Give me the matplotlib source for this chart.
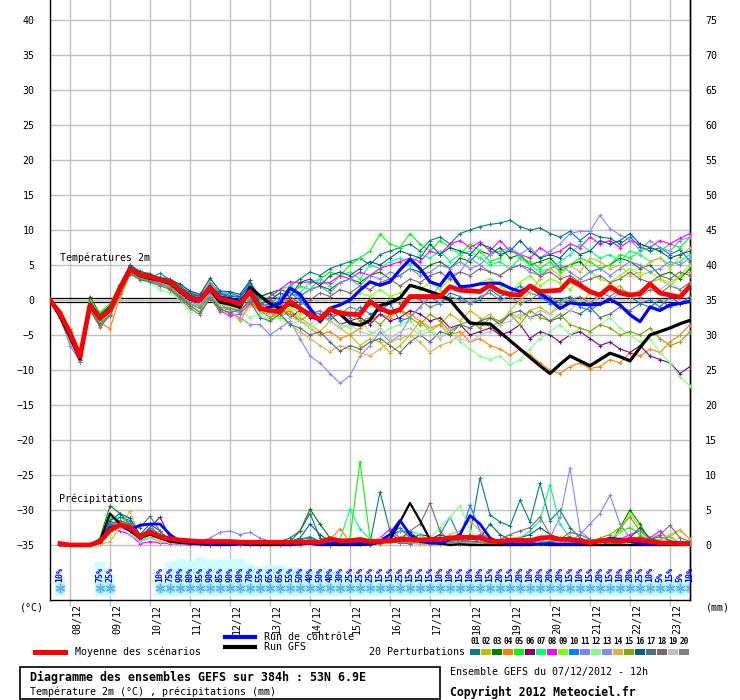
#<-------------------------------------------------- All Imports ------------------------------------------------------>
import matplotlib
matplotlib.use("Agg")
import matplotlib.pyplot as plt
from matplotlib.lines import Line2D
from matplotlib.patches import Rectangle

plt.rcParams['font.family'] = ['DejaVu Sans Mono', 'DejaVu Sans']

#<-------------------------------------------------------- Data ------------------------------------------------------->

# 6h steps from 07/12 12h to +384h
hours = list(range(0, 385, 6))
rain_hours = hours[1:]
day_ticks = list(range(12, 385, 24))
day_labels = ["08/12", "09/12", "10/12", "11/12", "12/12", "13/12", "14/12", "15/12",
              "16/12", "17/12", "18/12", "19/12", "20/12", "21/12", "22/12", "23/12"]

# Temperature 2m (°C)
t_mean = [0, -1.9, -4.7, -8.1, -0.7, -2.6, -1.4, 1.7, 4.4, 3.6, 3.3, 2.9, 2.6, 1.4, 0.3, 0.0, 1.7, 0.2, -0.1, -0.6,
          1.2, -1.2, -1.5, -1.7, -0.2, -1.2, -2.1, -2.7, -1.3, -1.9, -2.0, -2.1, -0.2, -1.2, -1.8, -1.4, 0.5, 0.5, 0.5, 0.5,
          1.9, 1.4, 1.3, 1.2, 2.1, 1.2, 0.8, 0.7, 2.0, 1.2, 1.3, 1.4, 2.9, 2.1, 1.2, 0.7, 1.9, 1.0, 0.7, 0.9,
          2.3, 1.0, 0.7, 0.4, 2.0]
t_ctrl = [0, -1.9, -4.6, -8.0, -0.6, -2.5, -1.2, 1.8, 4.5, 3.7, 3.4, 3.0, 2.7, 1.5, 0.5, 0.1, 1.9, 0.4, 0.2, -0.2, 1.5,
          -1.4, -1.0, -0.5, 1.7, 0.8, -1.2, -3.1, -1.2, -0.7, 0.0, 1.4, 2.6, 2.1, 2.6, 4.3, 5.8, 4.5, 2.6, 2.1, 4.0,
          1.9, 2.0, 2.3, 2.4, 2.4, 1.7, 1.2, 1.9, 0.9, 0.0, -1.2, -0.4, -0.6, -0.7, -0.6, 0.1, -0.7, -2.1, -3.1, -1.0,
          -1.5, -0.7, -0.5, -0.2]
t_gfs = [0, -2.3, -5.2, -8.4, -0.8, -2.7, -1.3, 1.6, 4.4, 3.5, 3.1, 2.8, 2.4, 1.2, 0.1, -0.1, 1.5, -0.3, -0.6, -1.0, 1.8,
         0.6, -0.5, -1.2, -0.6, -1.2, -2.1, -2.9, -1.4, -2.0, -3.3, -3.6, -2.9, -0.8, -0.4, 0.3, 2.1, 1.7, 1.2, 0.7, 0.0,
         -1.7, -3.3, -3.4, -3.4, -4.6, -5.8, -7.0, -8.2, -9.4, -10.5, -9.2, -8.0, -8.7, -9.4, -8.5, -7.6, -8.1, -8.7, -6.8, -5.0,
         -4.5, -4.0, -3.4, -2.9]

p01 = [0, -1.8, -4.5, -7.8, -0.5, -2.5, -1, 2, 5, 4, 3.5, 3, 3, 2, 1, 0.5, 2.5, 1, 1, 0.5, 2.5,
       0.5, 1, 0, 2, 3, 4, 3.5, 4.5, 5, 5.5, 6, 5, 6.5, 7, 7.5, 8, 7, 8.5, 9, 8, 9.5, 10, 10.5, 10.8, 11,
       11.4, 10.5, 10, 10.3, 9.5, 9, 9.8, 8.5, 9.6, 9, 8.8, 8, 9, 7.6, 7, 7.5, 6.5, 7.2, 5.5]
p02 = [0, -2.2, -5.2, -8.2, -1.2, -3.2, -2, 1, 4, 3, 3, 2.5, 2.2, 1, 0, -1, 0.8, -1, -1.5, -3, -0.5,
       -1.5, -2, -2.5, -1.5, -2.5, -3.5, -4.5, -3, -4, -5, -6.5, -5.5, -6, -7.5, -6.5, -5, -3, -4.5, -3.5, -2,
       -3, -1.5, -2.5, -4, -3, -2, -2.5, -1.5, -1, -2, -0.5, 0.5, -0.5, 1, 0.5, 1.5, 2, 0.5, 1, 2.5, 3, 2, 3.5, 4]
p03 = [0, -1.5, -4.2, -7.5, 0.5, -2, -0.8, 2.2, 4.8, 3.8, 3.6, 3.2, 3, 1.8, 0.8, 0.5, 2, 0.8, 0.5, 0.5, 2,
       0.5, 1, 1.5, 1, 0.5, 1.5, 2, 1.5, 2.5, 3, 2.5, 3.5, 4, 3, 3.5, 4.5, 4, 5, 5.5, 4.5,
       6, 5.5, 7, 6.5, 7.5, 6, 6.5, 5, 5.5, 6, 4.5, 5, 5.5, 4, 4.5, 5, 6, 5.5, 4.5, 5, 3.5, 4, 3, 4.5]
p04 = [0, -2, -4.8, -7.8, -1.5, -3.2, -4.1, 0.5, 3.8, 3.2, 3.5, 3.3, 3, 2.2, 1.2, 0.8, 2.2, 0.5, 0.2, -0.5, 1,
       -1, -0.5, -2, -1.5, -3, -4, -5, -4.5, -5.5, -5, -4, -3, -2, -2.5, -1.5, -2, -3, -4, -3.5, -5,
       -4.5, -6, -5.5, -6.5, -7, -7.9, -7, -7.8, -9, -10, -10.5, -9.5, -9, -9.8, -9.5, -8.5, -9, -7.5, -8, -7,
       -7.5, -6, -5, -3.5]
p05 = [0, -1.8, -4.5, -7.6, -0.2, -1.8, -0.5, 2.3, 4.5, 3.3, 3, 3.3, 2.8, 1.3, 0.5, -0.2, 1.5, 0.5, -0.5, 0, 1.5,
       -0.5, 0, 1, 0.5, 2, 1.5, 3, 4, 3.5, 5, 6, 7, 9.4, 8, 7.5, 9.5, 8, 7, 8.5, 7.5,
       6.5, 8, 7, 5.5, 6, 7.5, 6, 5.5, 4.5, 5.5, 4, 5, 6, 5.5, 4.5, 5, 6.5, 6, 7, 7.5, 7, 8, 7.5, 9]
p06 = [0, -2.3, -5, -8.5, -1, -2.8, -1.8, 1.5, 4.3, 3.4, 3.1, 2.6, 2.3, 1, 0, -0.5, 1.3, -0.3, -0.8, -1.2, 0.8,
       -1.5, -2, -1, -2.5, -1.5, -2.5, -3, -2, -3.5, -3, -2.5, -3.5, -2, -3, -2.5, -1.5, -2, -3, -2.5, -4,
       -3.5, -5, -4.5, -4, -5, -4.5, -3.5, -5.5, -4.5, -5, -6, -5, -4.5, -5.5, -6.5, -6, -7, -7.5, -6.5, -8,
       -8.5, -9, -10.5, -9.5]
p07 = [0, -1.9, -4.6, -7.9, -0.6, -2.4, -1.2, 1.8, 4.2, 3.7, 3.4, 2.8, 2.4, 1.6, 0.4, 0.2, 1.9, 0.6, 0.3, -0.2, 1.6,
       0, 0.5, 1.5, 2, 1, 2.5, 3, 2, 3.5, 4, 3, 5, 4.5, 5.5, 6, 5, 6.5, 6, 7, 5.5,
       6.5, 7, 6, 5, 5.5, 4.5, 6, 5, 4, 4.5, 5.5, 6.5, 8, 7, 6, 6.5, 5.5, 7, 6.5, 5.5, 6, 5, 5.5, 6.5]
p08 = [0, -2, -4.8, -8, -0.8, -2.7, -1.4, 1.6, 4.4, 3.5, 3.2, 2.7, 2.3, 1.2, 0, -0.4, 1.2, -1.5, -2.3, -2, -0.5,
       -1, 0.5, 1.5, 2.6, 2.5, 2.6, 2.4, 2.5, 3.5, 3, 4, 3.5, 4.5, 5, 5.5, 6, 5.5, 7, 6.5, 8,
       8.5, 7.5, 8.3, 7, 8.5, 7, 6.5, 6, 7.5, 6.5, 7, 8, 7.5, 9, 8, 8.5, 7.5, 8.5, 8, 7.5, 8.5, 8, 8.8, 9.5]
p09 = [0, -1.7, -4.3, -7.4, -0.4, -3.5, -1.6, 1.2, 3.8, 3, 2.8, 2.7, 1.5, 0.5, -1, -1.5, 0.5, -0.6, -0.8, -1, 0.5,
       -2, -1.5, -2.5, -1, -2, -1.5, -2.5, -1, -0.5, 0, 1, 0.5, 1.5, 0.5, 1, 2, 1.5, 2.5, 1.5, 3,
       2, 1.5, 2.5, 3, 2, 1, 2.5, 3.5, 2, 3, 2.5, 1.5, 3, 4, 3, 2.5, 3.5, 4.5, 3.5, 4, 3, 2.5, 3.5, 5]
p10 = [0, -2, -4.9, -8.2, -0.9, -2.5, -1.3, 2, 4.6, 3.8, 3.2, 3.8, 2.9, 1.8, 1, 0.6, 2.5, 0.9, 0.7, 0.3, 2.2,
       -0.5, -1, 0, 1, 0, -1.5, -2, -3, -1.5, -2.5, -1, -2, -1.5, -0.5, -3, -2.5, -1, 0.5, -0.5, 1,
       0.5, -0.5, 0, 1.5, 0.5, 1, 2, 1, 0.5, -0.5, 0, 0.5, -1, -1.5, -0.5, 0, 1, 0.5, -0.5, 0, -1, 0.5, -0.5, 0]
p11 = [0, -2.5, -6.5, -8.8, -1.2, -3, -1.5, 1.3, 4.2, 3.2, 2.9, 2.4, 2, 0.8, -0.5, -1, 0.8, -0.5, -1.5, -1.8, 0.3,
       -1, -0.5, 0.5, 1, 0.5, 1.5, 2, 1, 2.5, 3, 2, 3.5, 3, 4, 3.5, 4.5, 3.5, 4, 5, 4.5,
       5.5, 4.5, 5, 4, 3.5, 4.5, 5, 4, 3.5, 4.5, 5, 4, 3, 4, 4.5, 3.5, 4.5, 5.5, 5, 4, 4.5, 5.5, 5, 6]
p12 = [0, -1.9, -4.5, -7.8, -0.8, -3.8, -1.8, 1, 4, 2.8, 2.5, 1.5, 1, 0, -1.7, -0.5, 1, -0.5, -1, -1.5, -2.5,
       -2, -3, -2.5, -3.5, -3, -4, -3, -2.5, -3.5, -4, -3, -4.5, -5, -4, -3.5, -3, -4.5, -4, -5.5, -4.5,
       -6, -7, -8, -8.5, -8, -9.3, -8.5, -7, -5.5, -4.5, -3.5, -5, -4, -4.5, -3.5, -2.5, -4, -5, -6, -5.5,
       -7.5, -9, -11, -12.3]
p13 = [0, -2.1, -5.1, -8.3, -1.1, -2.9, -1.6, 1.4, 4.1, 3.1, 3, 2.5, 2.1, 1.1, -0.2, -0.8, 1, -1.2, -2, -2.5, -3.5,
       -3.5, -5, -4, -3, -5.5, -8, -9, -10.5, -11.9, -10.8, -8, -6.5, -4.5, -6, -5, -2.5, -1, 0.5, 2, 3.5,
       4, 6, 5, 6.5, 7, 7.5, 6.5, 7.5, 6, 7, 8, 9.5, 9.8, 9.8, 12.1, 10.2, 9.3, 8.6, 7.1, 8.5, 7.5, 7, 8.5, 9]
p14 = [0, -1.6, -4, -7.2, -0.3, -4, -1.8, 0, 3.6, 3.9, 3.9, 2.8, 2.5, 1.7, 0.6, 0.1, 2.8, 0.3, -1.5, -2.9, -0.8,
       -1.5, -2.5, -2, -3.5, -4.5, -5.5, -6.5, -7.4, -6.5, -7, -7.5, -8, -7, -6, -5.5, -5, -6, -7.5, -6.5, -6,
       -5, -4, -3, -2, -3.5, -1.5, 0, 1, 3, 4.5, 3.5, 5, 4, 6, 5.5, 4.5, 5, 3.5, 4, 5.5, 6, 4.5, 6.2, 7.5]
p15 = [0, -2.2, -5.3, -8.4, -1.3, -3.3, -2.1, 1.1, 3.9, 3.1, 2.7, 2.3, 1.8, 0.6, -0.6, -1.2, 0.5, -1, -1.2, -1.6, -0.2,
       -1.5, -2.5, -1.5, -2, -3, -2, -3, -2.5, -1.5, -2, -3, -2.5, -3.5, -2, -1.5, -2.5, -3.5, -2, -3, -4.5,
       -3.5, -3, -4, -2.5, -3, -2, -3.5, -1.5, -2.5, -3, -2, -3.5, -4, -4.5, -3.5, -4, -5, -4.5, -5, -4,
       -5.5, -6.5, -6, -4.5]
p16 = [0, -1.7, -4.4, -7.7, -0.4, -2.2, -0.9, 2.1, 5, 4.1, 3.7, 3.1, 2.9, 2.3, 1.3, 0.8, 3.1, 1.3, 1.2, 0.8, 2.8,
       -0.5, 0, 1, 0.5, 2.5, 3, 2, 3.5, 4, 3.5, 4.5, 5.5, 5, 6, 7, 6.5, 6, 8, 6.5, 7.5,
       7, 6.5, 8, 7.5, 6.5, 7, 8.5, 7, 6, 6.5, 6, 7.5, 6.5, 7, 8.5, 8, 8.5, 9.5, 8, 7.5, 7, 6, 6.5, 7]
p17 = [0, -2.4, -5.5, -8.8, -1.4, -3.6, -2.3, 0.8, 3.7, 2.9, 2.6, 2, 1.6, 0.4, -0.8, -1.8, 0.2, -1.3, -1.8, -1.4, -0.2,
       -2.5, -3, -2, -3.5, -4, -5, -4.5, -6, -7.3, -6.5, -7, -6, -5.5, -6.5, -7.5, -6, -5, -6, -4.5, -5,
       -3.5, -4, -3, -2.5, -3.5, -2, -1.5, -2.5, -2, -3, -2.5, -1.5, -2, -1, -2.5, -2, -1, -1.5, -0.5, -1,
       0, -1, -0.5, 0.5]
p18 = [0, -2, -4.9, -8.1, -0.7, -2.6, -1.2, 1.9, 4.5, 3.6, 3.4, 3, 2.6, 1.4, 0.3, 0.1, 1.8, 0.2, 0, -0.3, 1.4,
       -0.5, 0, -1, 0.5, -0.5, 0, 1, 0.5, 1.5, 1, 2, 1.5, 2.5, 3, 2, 3, 2.5, 3.5, 4, 3,
       4, 3.5, 4.5, 4, 3.5, 4.5, 5, 4.5, 3.5, 4, 3, 3.5, 2.5, 3, 3.5, 2.5, 3, 4, 3, 2.5, 3.5, 3, 4, 3.5]
p19 = [0, -2.1, -5, -8.2, -0.9, -2.7, -1.3, 1.7, 4.4, 3.5, 3.2, 2.8, 2.5, 1.3, 0.1, -0.2, 1.5, 0, -0.4, -0.9, 0.9,
       -1.5, -2, -1.5, -2.5, -3, -3.5, -2.5, -3, -4, -3.5, -4.5, -5, -4, -5.5, -4.5, -4, -5, -4.5, -5.5, -4,
       -5.5, -6, -5, -4.5, -3.5, -3, -2, -2.5, -1.5, -2, -1, -1.5, 0, -0.5, 0.5, 0, 1, 0.5, 1.5, 2,
       1.5, 2.5, 1.5, 2.5]
p20 = [0, -2.6, -5.8, -8.9, -1.5, -3.9, -2.2, 1, 4, 3.2, 2.8, 2.2, 1.4, 0.2, -1.2, -2.1, 0.3, -1.7, -1.2, -1.5, 0,
       -1, -0.5, -1.5, -0.5, -1, -2, -1.5, -2.5, -2, -1, -1.5, -0.5, -1, 0, -0.5, 0.5, 0, -1, -0.5, 0.5,
       0, -0.5, 0.5, 1, 0, 0.5, -0.5, 0, 1, 0.5, -0.5, 0, 0.5, -0.5, 1, 0.5, 1.5, 1, 0.5, 1.5, 1, 2, 1.5, 2.5]

# Precipitations (mm), from +6h
r_mean = [0.2, 0, 0, 0, 0.5, 2.1, 2.9, 2.5, 1.2, 1.9, 1.2, 0.9, 0.7, 0.6, 0.5, 0.5, 0.5, 0.5, 0.4, 0.4,
          0.4, 0.4, 0.4, 0.4, 0.4, 0.4, 0.4, 0.9, 0.6, 0.6, 0.8, 0.5, 0.5, 0.6, 0.8, 0.8, 0.7, 0.8, 0.8, 1.0,
          1.1, 1.1, 1.0, 0.6, 0.5, 0.7, 0.7, 0.6, 1.0, 1.1, 0.8, 0.8, 0.6, 0.3, 0.6, 0.7, 0.5, 0.8, 0.7, 0.5,
          0.3, 0.3, 0.2, 0.2]
r_ctrl = [0, 0, 0, 0, 0.5, 2.5, 2.8, 2.2, 2.8, 3, 3, 1.5, 0.5,
          0.3, 0.2, 0.1, 0.2, 0.1, 0.2, 0.1, 0.2, 0.3, 0.2, 0.1, 0.3, 0.2, 0.1, 0.2, 0.3, 0.1, 0.2, 0.1, 0.5,
          1.5, 3.5, 1.5, 0.5, 0.3, 0.2, 0.8, 1.5, 4.2, 3, 1, 0.3, 0.2, 0.1, 0.2, 0.1, 0.2, 0.1, 0.1, 0.2,
          0.3, 0.5, 1, 0.8, 0.5, 0.2, 0.1, 0.2, 0.1, 0.2, 0.1]
r_gfs = [0, 0, 0, 0, 0.5, 4.5, 3, 2, 1, 1.5, 1, 0.5, 0.3,
         0.2, 0.1, 0, 0, 0, 0.1, 0, 0, 0, 0, 0, 0.1, 0.2, 0, 0, 0, 0, 0, 0.1, 0.3,
         0.8, 3.3, 6, 3.5, 0.8, 0.2, 0, 0.1, 0, 0, 0, 0, 0, 0, 0, 0.1, 0, 0, 0, 0,
         0, 0, 0, 0, 0, 0, 0, 0, 0, 0, 0]

r01 = [0.1, 0, 0, 0, 0.5, 3, 3.5, 2.5, 1, 2, 1, 0.5, 0.3,
       0.3, 0.2, 0.1, 0.2, 0.3, 0.2, 0.1, 0, 0.2, 0.5, 1, 2, 4.5, 1, 0.5, 0.3, 0.2, 0.5, 0.3, 7.6,
       2, 0.5, 0.3, 0.2, 0.5, 0.8, 1, 0.5, 1.5, 9.6, 4.3, 3.3, 2.7, 6.4, 3.3, 8.8, 3.5, 5, 2.5, 1,
       0.5, 0.3, 0.5, 0.8, 0.5, 0.3, 0.8, 1.2, 0.6, 0.4, 0.3]
r02 = [0, 0, 0, 0, 0.3, 2, 3, 2, 1.5, 1, 0.5, 0.3, 0.2,
       0.2, 0.1, 0, 0, 0.1, 0.2, 0, 0, 0.1, 0, 0.1, 0.3, 0.5, 0.2, 0, 0.1, 0.3, 0.2, 0, 0.5,
       1.5, 0.8, 0.3, 0.1, 0, 0.2, 0.5, 0.2, 0.1, 0.3, 0.5, 0.2, 0.1, 0.3, 0.8, 0.5, 0.3, 0.2, 0.1, 0.3,
       0.5, 0.8, 1, 0.5, 0.3, 0.5, 0.2, 0.8, 1.2, 2.1, 0.8]
r03 = [0.2, 0, 0, 0, 1, 5.6, 4.5, 3, 1.5, 1.5, 0.8, 0.5, 0.3,
       0.2, 0.1, 0.1, 0, 0, 0.2, 0.3, 0.2, 0.5, 0.3, 0.5, 2, 5.1, 3, 1, 0.5, 0.2, 0.3, 0.2, 0.8,
       1.5, 2, 1.8, 0.8, 0.5, 0.3, 0.5, 0.8, 0.4, 0.5, 0.3, 0.2, 0.5, 0.3, 0.4, 0.6, 0.3, 0.5, 0.2, 0.3,
       0.5, 0.4, 0.3, 2.5, 5, 3, 0.5, 0.3, 0.2, 0.4, 0.2]
r04 = [0, 0, 0, 0, 0.5, 2.5, 3.5, 2.5, 1, 1.5, 1, 0.3, 0.2,
       0.1, 0, 0, 0.1, 0, 0, 0.2, 0.1, 0, 0, 0, 0.2, 0.3, 0.2, 0.8, 2.3, 0.5, 0.2, 0.3, 0.5,
       0.3, 0.8, 1.2, 0.5, 0.3, 0.2, 0.5, 0.3, 0.4, 0.2, 0.3, 0.5, 0.2, 0.3, 0.5, 0.3, 0.2, 0.4, 0.3, 0.1,
       0.2, 0.3, 0.5, 0.8, 0.4, 0.3, 0.2, 0.1, 0.3, 0.2, 0.1]
r05 = [0.1, 0, 0, 0, 0.3, 3.5, 4, 3, 1, 2, 1, 0.5, 0.3,
       0.3, 0.2, 0.1, 0.3, 0.4, 0.2, 0.1, 0.3, 0.2, 0.4, 0.3, 0.5, 0.8, 0.4, 0.3, 0.5, 1, 11.9, 1, 0.5,
       0.8, 0.5, 0.3, 0.2, 0.3, 0.5, 0.4, 0.3, 0.5, 0.3, 0.2, 0.4, 0.3, 0.5, 0.2, 0.4, 0.6, 0.3, 0.2, 0.4,
       0.3, 0.5, 0.2, 2, 2.5, 1.5, 0.5, 0.8, 1.2, 0.3, 0.5]
r06 = [0, 0, 0, 0, 0.2, 2, 3, 2.5, 0.8, 2.5, 4, 1, 0.3,
       0.1, 0.1, 0, 0.1, 0.2, 0.1, 0, 0, 0.1, 0, 0.1, 0.2, 0.3, 0.1, 0, 0.1, 0.2, 0.1, 0, 0.3,
       0.5, 0.3, 0.8, 1.5, 1.2, 0.8, 0.5, 0.2, 0.3, 0.5, 0.3, 0.2, 0.1, 0.3, 0.5, 0.3, 0.2, 0.1, 0.2, 0.3,
       0.2, 0.1, 0.3, 0.5, 0.2, 0.1, 0.3, 0.2, 0.1, 0.2, 0.1]
r07 = [0.1, 0, 0, 0, 0.5, 4, 3, 2, 0.5, 1.5, 1.2, 0.5, 0.2,
       0.2, 0.3, 0.1, 0.2, 0.1, 0.3, 0.2, 0.1, 0.3, 0.2, 0.3, 0.2, 0.4, 0.3, 0.5, 0.8, 5.1, 2.3, 0.8, 0.5,
       0.3, 1, 2, 1.5, 0.5, 0.8, 0.4, 0.3, 0.5, 0.8, 0.4, 0.3, 0.5, 1, 2, 3.5, 8.6, 3, 1, 0.5,
       0.3, 0.5, 0.3, 0.2, 0.4, 0.3, 0.5, 0.3, 0.2, 0.4, 0.3]
r08 = [0, 0, 0, 0, 0.3, 2.5, 2, 1.5, 0.2, 0.5, 0.3, 0.2, 0.1,
       0, 0.1, 0, 0, 0.1, 0, 0, 0.1, 0, 0, 0.1, 0, 0.2, 0.1, 0, 0.1, 0, 0.2, 0.5, 1,
       2.3, 1, 0.5, 0.3, 0.2, 0.5, 0.3, 0.2, 0.8, 1.5, 0.8, 0.3, 0.2, 0.5, 0.3, 0.2, 0.5, 0.3, 0.2, 0.1,
       0.3, 0.2, 0.5, 0.8, 1.5, 2, 1, 2, 0.5, 0.3, 0.2]
r09 = [0, 0, 0, 0, 0.2, 3, 2.5, 3, 1.5, 1, 0.8, 0.3, 0.2,
       0.1, 0.2, 0.1, 0, 0.1, 0.2, 0.1, 0, 0.2, 0.1, 0.2, 0.3, 0.1, 0.2, 0.3, 0.1, 0.2, 0.4, 0.3, 0.2,
       0.5, 0.3, 0.2, 0.4, 0.3, 0.5, 0.2, 0.3, 0.4, 0.2, 0.3, 0.2, 0.5, 0.3, 0.2, 0.4, 0.3, 0.5, 0.2, 0.3,
       0.5, 0.3, 0.8, 2, 4.5, 2.5, 0.5, 0.3, 0.2, 0.3, 0.1]
r10 = [0.1, 0, 0, 0, 0.4, 2.5, 4, 3.5, 1, 2.5, 1.5, 0.5, 0.3,
       0.2, 0.1, 0.3, 0.2, 0.1, 0.2, 0.3, 0.1, 0.2, 0.1, 0.5, 0.8, 1.2, 0.5, 0.3, 0.2, 0.3, 0.5, 0.4, 0.8,
       1.5, 2.5, 1, 0.5, 0.8, 1.5, 4, 1, 5.7, 2, 0.5, 0.3, 0.2, 0.4, 0.3, 0.5, 0.2, 0.3, 0.1, 0.2,
       0.3, 0.5, 0.8, 0.3, 0.2, 0.4, 0.3, 0.2, 0.1, 0.2, 0.1]
r11 = [0.1, 0, 0, 0, 0.5, 2, 2.5, 2, 3, 3, 1, 0.5, 0.3,
       0.3, 0.5, 1, 1.8, 2, 1.5, 1.8, 1, 0.5, 0.3, 0.2, 0.1, 0.3, 0.2, 0.1, 0.2, 0.3, 0.1, 0.2, 0.5,
       0.8, 2, 1.5, 0.5, 0.3, 0.2, 0.5, 0.8, 1, 0.5, 0.3, 0.5, 0.2, 0.3, 0.8, 0.5, 1, 0.8, 0.5, 1.5,
       3, 4.5, 7.1, 3, 1, 0.5, 0.3, 0.5, 0.3, 0.2, 0.1]
r12 = [0, 0, 0, 0, 0.2, 1.5, 2.5, 2, 1, 1.2, 0.6, 0.3, 0.2,
       0.1, 0, 0.1, 0.2, 0.1, 0, 0.1, 0.2, 0.1, 0, 0.1, 0.3, 0.5, 0.2, 0.1, 0.2, 0.4, 0.8, 0.3, 0.2,
       0.3, 0.5, 0.8, 0.5, 1, 2.5, 4, 5.6, 2, 0.5, 0.3, 0.2, 0.4, 0.3, 0.2, 0.5, 0.3, 0.2, 0.1, 0.3,
       0.2, 0.4, 0.3, 0.5, 0.2, 0.3, 0.1, 0.2, 0.3, 0.1, 0.2]
r13 = [0.1, 0, 0, 0, 0.6, 3, 3.5, 2.5, 0.5, 1, 1.5, 0.8, 0.4,
       0.2, 0.3, 0.2, 0.1, 0.2, 0.3, 0.2, 0.1, 0.2, 0.3, 0.2, 0.1, 0.3, 0.2, 0.1, 0.2, 0.3, 0.2, 0.1, 0.4,
       0.5, 0.3, 0.2, 0.4, 0.3, 0.5, 0.8, 0.5, 0.3, 0.2, 0.3, 0.5, 0.4, 0.3, 0.5, 0.8, 1, 4, 11, 2,
       0.8, 0.5, 0.5, 0.3, 0.5, 0.8, 0.4, 0.3, 0.2, 0.3, 0.2]
r14 = [0, 0, 0, 0, 0, 0.5, 2.5, 4.9, 1, 1.5, 1, 0.5, 0.3,
       0.1, 0, 0.1, 0, 0, 0.1, 0, 0.1, 0, 0, 0.1, 0.2, 0.3, 0.1, 0.2, 0.3, 0.5, 0.3, 0.2, 0.5,
       0.3, 0.8, 0.5, 1, 0.5, 0.8, 1.5, 2, 3.5, 2, 0.8, 0.5, 0.3, 0.2, 0.5, 0.3, 0.2, 0.4, 0.3, 0.5,
       0.3, 0.5, 0.8, 0.5, 0.3, 0.2, 0.5, 0.8, 1.5, 2.2, 0.8]
r15 = [0, 0, 0, 0, 0.3, 2.5, 3, 3, 1.2, 1.8, 1, 0.4, 0.2,
       0.2, 0.1, 0.2, 0.1, 0, 0.1, 0.2, 0.1, 0.2, 0.1, 0.2, 0.1, 0.3, 0.2, 0.1, 0.3, 0.2, 0.5, 0.3, 0.2,
       0.5, 1, 1.5, 0.8, 0.5, 0.3, 0.2, 0.5, 0.3, 0.2, 0.3, 0.2, 0.5, 0.3, 0.2, 0.4, 0.3, 0.2, 0.1, 0.3,
       0.5, 1, 1.5, 2.5, 4, 2, 0.8, 0.5, 0.3, 0.2, 0.3]
r16 = [0.1, 0, 0, 0, 0.4, 3.5, 4.5, 3.8, 1.5, 3, 2, 0.6, 0.3,
       0.3, 0.2, 0.1, 0.3, 0.2, 0.1, 0.3, 0.2, 0.4, 0.3, 0.5, 1, 3, 1.5, 0.5, 0.3, 0.2, 0.5, 0.3, 0.8,
       1, 0.5, 0.3, 0.5, 0.8, 1.5, 1, 0.5, 0.8, 1, 3, 1.5, 0.8, 1, 1.5, 2.5, 1.5, 1, 0.8, 0.5,
       0.8, 0.5, 0.3, 0.5, 1, 2.5, 1, 0.5, 0.3, 0.5, 0.3]
r17 = [0.1, 0, 0, 0, 0.5, 3, 3.5, 3, 2.5, 4.1, 2, 0.5, 0.3,
       0.3, 0.2, 0.3, 0.2, 0.1, 0.3, 0.2, 0.1, 0.2, 0.3, 0.5, 0.8, 1, 0.5, 0.3, 0.2, 0.3, 0.2, 0.1, 0.3,
       0.5, 0.3, 0.2, 0.3, 0.5, 0.3, 0.2, 0.4, 0.3, 0.2, 0.3, 0.5, 0.3, 0.2, 0.4, 0.3, 0.5, 0.8, 1.2, 0.5,
       0.3, 0.5, 0.2, 0.3, 0.2, 0.4, 0.3, 0.2, 0.3, 0.2, 0.1]
r18 = [0, 0, 0, 0, 0.3, 2, 2.5, 2, 1, 2, 1.5, 0.6, 0.4,
       0.2, 0.1, 0.2, 0.3, 0.2, 0.1, 0.2, 0.3, 0.4, 0.2, 0.3, 0.2, 0.5, 0.3, 0.2, 0.3, 0.2, 0.4, 0.3, 0.8,
       1.5, 0.8, 2, 3, 6, 2, 0.5, 0.8, 0.5, 0.3, 0.5, 0.8, 1.5, 2, 2.5, 4, 1.5, 0.8, 1.8, 1.5,
       0.8, 0.5, 0.3, 0.5, 0.8, 1.2, 0.8, 1.5, 2.8, 1, 0.5]
r19 = [0, 0, 0, 0, 0.2, 2, 2.5, 1.5, 0.5, 1, 0.5, 0.3, 0.2,
       0.1, 0.2, 0.1, 0.3, 0.2, 0.1, 0.2, 0.1, 0.3, 0.2, 0.3, 0.2, 0.1, 0.2, 0.3, 0.2, 0.1, 0.3, 0.5, 1,
       0.8, 0.5, 0.3, 0.2, 0.5, 0.3, 0.2, 0.4, 0.3, 0.2, 0.5, 0.3, 0.8, 1.2, 0.5, 0.3, 0.2, 0.5, 0.8, 0.5,
       0.3, 0.2, 0.5, 0.3, 0.2, 0.4, 0.3, 0.5, 0.3, 0.2, 0.1]
r20 = [0.1, 0, 0, 0, 0.5, 2.5, 3.2, 2.8, 1, 2.2, 1.2, 0.5, 0.3,
       0.2, 0.3, 0.2, 0.1, 0.3, 0.2, 0.3, 0.2, 0.1, 0.2, 0.3, 0.2, 0.4, 0.3, 0.2, 0.3, 0.2, 0.3, 0.2, 0.5,
       0.8, 0.5, 0.3, 0.5, 0.8, 1.2, 0.5, 0.3, 0.2, 0.4, 0.3, 0.2, 0.5, 0.8, 1, 0.5, 0.3, 0.2, 0.5, 0.3,
       0.2, 0.4, 0.3, 0.5, 0.8, 0.5, 0.3, 0.2, 0.4, 0.3, 0.2]

# Snow probability (% of members)
snow_hours = [6, 30, 36] + list(range(66, 385, 6))
snow_pct = [10, 75, 25,
            10, 75, 90, 80, 95, 90, 85, 90, 90, 70, 55, 65, 65, 55, 50, 40, 50, 40, 30, 25, 25, 25,
            15, 15, 25, 15, 15, 15, 10, 10, 15, 10, 10, 15, 20, 15, 20, 10, 20, 20, 20, 15, 10, 15,
            20, 15, 10, 20, 25, 10, 5, 15, 5, 10]

member_colors = ["#008080", "#c0c000", "#008000", "#ff8000", "#00ff00", "#800080", "#00ff80",
                 "#ff00ff", "#80ff00", "#0080ff", "#8080ff", "#80ff80", "#8888ff", "#e0b040",
                 "#80a800", "#006080", "#507080", "#806870", "#c0c0c0", "#808080"]

temp_members = [p01, p02, p03, p04, p05, p06, p07, p08, p09, p10,
                p11, p12, p13, p14, p15, p16, p17, p18, p19, p20]
rain_members = [r01, r02, r03, r04, r05, r06, r07, r08, r09, r10,
                r11, r12, r13, r14, r15, r16, r17, r18, r19, r20]

for k, v in enumerate(temp_members + [t_mean, t_ctrl, t_gfs]):
    assert len(v) == len(hours), ("temp", k, len(v))
for k, v in enumerate(rain_members + [r_mean, r_ctrl, r_gfs]):
    assert len(v) == len(rain_hours), ("rain", k, len(v))
assert len(snow_pct) == len(snow_hours), len(snow_pct)

#<-------------------------------------------------------- Plot ------------------------------------------------------->

W, H = 740, 700
def fx(x): return x / W
def fy(y): return 1 - y / H

Y_LO, Y_HI = -300 / 7, 300 / 7

fig = plt.figure(figsize=(7.4, 7.0), dpi=100)
ax = fig.add_axes([fx(50), fy(600), 640 / W, 600 / H])
ax.set_xlim(0, 384)
ax.set_ylim(Y_LO, Y_HI)

ax.set_yticks(range(-35, 41, 5))
ax.set_xticks(day_ticks)
ax.set_xticklabels([])
ax.grid(True, color="#c0c0c0", lw=1.0, zorder=0)
ax.set_axisbelow(True)
ax.tick_params(axis="y", length=0, pad=11, labelsize=7.2)
ax.tick_params(axis="x", length=4, color="#c0c0c0", width=1.0)
ax.spines["top"].set_visible(False)
for s in ["left", "right", "bottom"]:
    ax.spines[s].set_linewidth(1.0)

# day labels, written upwards just under the frame
for h, lab in zip(day_ticks, day_labels):
    ax.text(h + 1.3, Y_LO - 0.55, lab, rotation="vertical", ha="left", va="top",
            fontsize=7.2, clip_on=False)

# mm scale on the right: 0 mm sits on -35 °C
sec = ax.secondary_yaxis("right", functions=(lambda t: t + 35, lambda m: m - 35))
sec.set_yticks(range(0, 76, 5))
sec.tick_params(length=0, pad=11, labelsize=7.2)
sec.spines["right"].set_linewidth(1.0)

# 0 °C double line
ax.axhline(0.22, color="black", lw=0.9, zorder=2)
ax.axhline(-0.22, color="black", lw=0.9, zorder=2)

# Snow strip
ax.bar(snow_hours, [2.2 + 0.035 * p for p in snow_pct], bottom=-42.3, width=6,
       color="#ccffff", zorder=1)
ax.scatter(snow_hours, [-41.1] * len(snow_hours), s=60, color="#a8e4f8", zorder=2, lw=0)
ax.scatter(snow_hours, [-41.1] * len(snow_hours), s=36, marker=(6, 2, 0), color="#55b4ea",
           lw=0.9, zorder=2.1)
for h, p in zip(snow_hours, snow_pct):
    ax.text(h, -40.35, f"{p}%", rotation=90, ha="center", va="bottom", color="#0000ff",
            fontsize=6.0, fontweight="bold", zorder=3)

# Perturbations
for vals, col in zip(temp_members, member_colors):
    ax.plot(hours, vals, color=col, lw=0.8, marker="+", ms=3, mew=0.7, zorder=3)
for vals, col in zip(rain_members, member_colors):
    ax.plot(rain_hours, [m - 35 for m in vals], color=col, lw=0.8, marker="+", ms=3, mew=0.7, zorder=3)

# GFS, control, mean
ax.plot(hours, t_gfs, color="black", lw=2.3, zorder=4)
ax.plot(rain_hours, [m - 35 for m in r_gfs], color="black", lw=1.6, zorder=4)
ax.plot(hours, t_ctrl, color="#0000ff", lw=2.3, zorder=5)
ax.plot(rain_hours, [m - 35 for m in r_ctrl], color="#0000ff", lw=2.0, zorder=5)
ax.plot(hours, t_mean, color="#ff0000", lw=3.4, zorder=6)
ax.plot(rain_hours, [m - 35 for m in r_mean], color="#ff0000", lw=3.4, zorder=6)

ax.text(6, 6.1, "Températures 2m", ha="left", va="center", fontsize=7.2, zorder=7)
ax.text(5.4, -28.4, "Précipitations", ha="left", va="center", fontsize=7.2, zorder=7)

# Units
fig.text(fx(20), fy(607), "(°C)", va="center", ha="left", fontsize=7.2)
fig.text(fx(706), fy(607), "(mm)", va="center", ha="left", fontsize=7.2)

#<------------------------------------------------------- Legend ------------------------------------------------------>

fig.add_artist(Line2D([fx(35), fx(65)], [fy(652), fy(652)], color="#ff0000", lw=3.6))
fig.text(fx(75), fy(652), "Moyenne des scénarios", va="center", fontsize=7.2)
fig.add_artist(Line2D([fx(225), fx(255)], [fy(637), fy(637)], color="#0000ff", lw=3.0))
fig.text(fx(264), fy(637), "Run de contrôle", va="center", fontsize=7.2)
fig.add_artist(Line2D([fx(225), fx(255)], [fy(647), fy(647)], color="black", lw=3.0))
fig.text(fx(264), fy(647), "Run GFS", va="center", fontsize=7.2)

fig.text(fx(369), fy(652), "20 Perturbations", va="center", fontsize=7.2)
for k, col in enumerate(member_colors):
    x0 = 470 + 11 * k
    fig.add_artist(Rectangle((fx(x0), fy(655)), 10 / W, 6 / H, color=col, lw=0,
                             transform=fig.transFigure))
    fig.text(fx(x0 + 5), fy(642), f"{k + 1:02d}", ha="center", va="center", fontsize=5.6,
             fontweight="bold")

# Title boxes
fig.add_artist(Rectangle((fx(20), fy(699)), 420 / W, 32 / H, fill=False, ec="black", lw=1.2,
                         transform=fig.transFigure))
fig.text(fx(30), fy(677), "Diagramme des ensembles GEFS sur 384h : 53N 6.9E", va="center",
         fontsize=8.4, fontweight="bold")
fig.text(fx(30), fy(692), "Température 2m (°C) , précipitations (mm)", va="center", fontsize=7.2)
fig.text(fx(450), fy(672), "Ensemble GEFS du 07/12/2012 - 12h", va="center", fontsize=7.2)
fig.text(fx(450), fy(692), "Copyright 2012 Meteociel.fr", va="center", fontsize=8.3,
         fontweight="bold")

fig.savefig("out.png", dpi=100)
